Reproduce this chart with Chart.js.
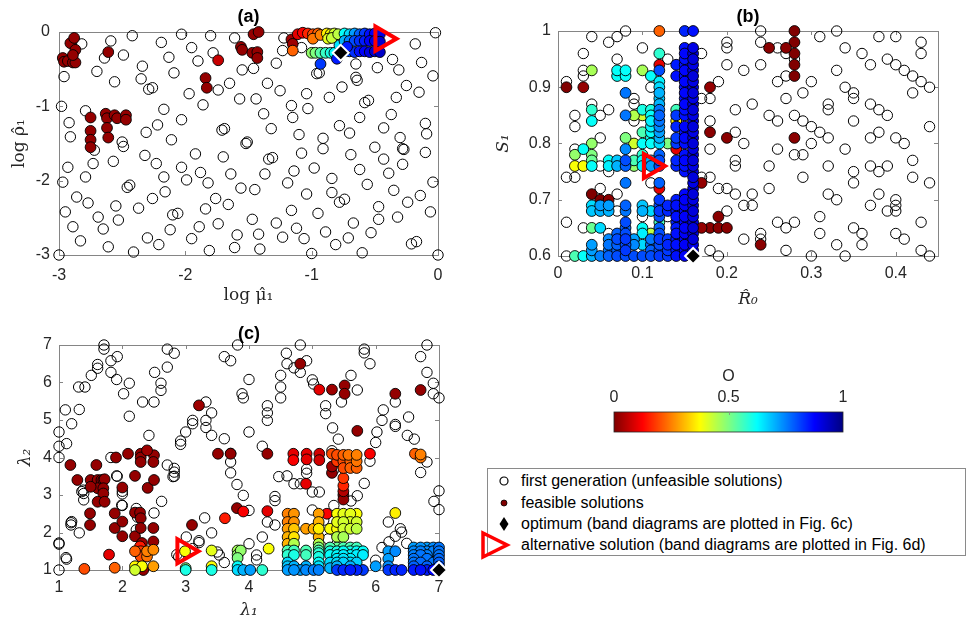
<!DOCTYPE html>
<html>
<head>
<meta charset="utf-8">
<script src="https://cdn.jsdelivr.net/npm/chart.js@4/dist/chart.umd.min.js"></script>
<style>
  html, body { margin: 0; padding: 0; background: #fff; }
  body { width: 967px; height: 624px; position: relative; overflow: hidden; }
  canvas { position: absolute; }
  #legend {
    position: absolute; left: 487px; top: 468px; width: 477px; height: 86px;
    border: 1px solid #8a8a8a; font-family: 'Liberation Sans', Arial, sans-serif;
    font-size: 16px; color: #000; background: #fff;
  }
  #legend .row { position: absolute; left: 0; height: 22px; line-height: 22px; white-space: nowrap; }
  #legend .row span { position: absolute; left: 33px; top: 0; }
  #legend svg { position: absolute; left: 0; top: 0; overflow: visible; }
</style>
</head>
<body>
<canvas id="panelA" width="470" height="310" style="left:0;top:0"></canvas>
<canvas id="panelB" width="487" height="320" style="left:480px;top:0"></canvas>
<canvas id="panelC" width="470" height="304" style="left:0;top:320px"></canvas>
<canvas id="colorbar" width="280" height="80" style="left:590px;top:360px"></canvas>
<div id="legend">
  <div class="row" style="top:1px">
    <svg width="30" height="22"><circle cx="16" cy="11" r="4" fill="none" stroke="#000" stroke-width="1.2"/></svg>
    <span>first generation (unfeasible solutions)</span>
  </div>
  <div class="row" style="top:23px">
    <svg width="30" height="22"><circle cx="16" cy="11" r="3" fill="#800000" stroke="#000" stroke-width="0.8"/></svg>
    <span>feasible solutions</span>
  </div>
  <div class="row" style="top:44px">
    <svg width="30" height="22"><polygon points="16,4 20.5,11 16,18 11.5,11" fill="#000"/></svg>
    <span>optimum (band diagrams are plotted in Fig. 6c)</span>
  </div>
  <div class="row" style="top:65px">
    <svg width="30" height="22"><polygon points="-5,-1 19,11 -5,23" fill="none" stroke="#ff0000" stroke-width="3.5"/></svg>
    <span>alternative solution (band diagrams are plotted in Fig. 6d)</span>
  </div>
</div>
<script>
/* ============================================================
   Three scatter panels (a)(b)(c) + colour bar for O
   ============================================================ */

// ---- panel (a): log mu1 vs log rho1 ----
const aXTicks = [-3, -2, -1, 0];
const aYTicks = [-3, -2, -1, 0];
const aFirstGen = [
  [-2.82,-0.16],[-2.96,-0.6],[-2.70,-0.53],[-2.64,-0.35],[-2.59,-0.12],[-2.56,-0.67],[-2.49,-0.31],[-2.42,-0.05],
  [-2.34,-0.46],[-2.35,-0.63],[-2.29,-0.77],[-2.26,-0.75],[-2.19,-0.14],[-2.17,-1.04],[-2.13,-0.34],[-2.09,-0.55],
  [-2.03,-0.03],[-1.95,-0.21],[-1.97,-0.83],[-1.90,-0.39],[-1.86,-0.98],[-1.80,-0.05],[-1.78,-0.28],[-1.74,-0.78],
  [-1.65,-0.69],[-1.61,-0.08],[-1.57,-0.90],[-1.55,-0.51],[-1.46,-0.49],[-1.44,-0.90],[-1.35,-0.69],[-1.38,-1.10],
  [-1.28,-0.42],[-1.25,-0.79],[-1.22,-0.08],[-1.23,-0.25],[-1.16,-0.99],[-1.15,-1.15],[-1.08,-0.21],[-1.03,-1.03],
  [-1.04,-0.83],[-0.96,-0.56],[-0.94,-0.55],[-0.86,-0.88],[-0.76,-0.74],[-0.64,-0.65],[-0.62,-1.15],[-0.78,-1.26],
  [-0.70,-1.36],[-0.58,-0.95],[-0.55,-0.92],[-0.48,-0.48],[-0.43,-1.29],[-0.37,-1.11],[-0.33,-0.88],[-0.31,-0.51],
  [-0.36,-0.37],[-0.25,-0.72],[-0.18,-0.16],[-0.15,-0.81],[-0.13,-0.41],[-0.04,-0.59],[-0.02,-0.01],[-0.10,-1.23],
  [-0.30,-1.42],[-0.09,-1.37],[-0.27,-1.58],[-2.98,-1.0],[-2.92,-1.22],[-2.91,-1.41],[-2.79,-1.06],[-2.72,-1.59],
  [-2.50,-1.48],[-2.49,-1.54],[-2.31,-1.35],[-2.22,-1.25],[-2.11,-1.45],[-2.03,-1.18],[-1.71,-1.32],[-1.69,-1.30],
  [-1.52,-1.50],[-1.51,-1.48],[-1.32,-1.30],[-1.10,-1.38],[-0.91,-1.43],[-0.65,-0.43],[-0.65,-0.61],
  [-2.93,-1.82],[-2.97,-2.02],[-2.86,-2.22],[-2.79,-1.95],[-2.73,-1.77],[-2.77,-2.30],[-2.95,-2.42],[-2.89,-2.62],
  [-2.83,-2.81],[-2.69,-2.49],[-2.65,-2.65],[-2.61,-2.89],[-2.57,-1.74],[-2.55,-2.34],[-2.53,-2.53],[-2.46,-2.09],
  [-2.44,-2.06],[-2.41,-2.96],[-2.37,-2.37],[-2.32,-1.66],[-2.30,-2.77],[-2.26,-2.24],[-2.23,-1.77],[-2.21,-2.86],
  [-2.17,-1.95],[-2.16,-2.15],[-2.12,-2.66],[-2.10,-2.46],[-2.06,-2.44],[-2.03,-1.82],[-1.99,-1.99],[-1.95,-2.78],
  [-1.92,-1.64],[-1.89,-2.62],[-1.88,-1.89],[-1.84,-2.38],[-1.82,-2.03],[-1.81,-2.94],[-1.76,-2.24],[-1.74,-2.58],
  [-1.70,-1.68],[-1.66,-2.32],[-1.64,-1.91],[-1.59,-2.73],[-1.61,-2.90],[-1.56,-2.10],[-1.47,-2.52],[-1.45,-2.12],
  [-1.42,-2.72],[-1.41,-2.92],[-1.37,-1.91],[-1.34,-1.71],[-1.31,-1.69],[-1.28,-2.57],[-1.23,-2.76],[-1.19,-2.03],
  [-1.16,-2.40],[-1.14,-1.87],[-1.12,-2.64],[-1.08,-1.63],[-1.06,-2.78],[-1.04,-2.18],[-1.00,-2.98],[-0.98,-1.83],
  [-0.95,-2.44],[-0.91,-1.57],[-0.89,-2.69],[-0.84,-2.16],[-0.84,-1.97],[-0.81,-2.86],[-0.78,-2.29],[-0.74,-2.25],
  [-0.71,-2.77],[-0.69,-1.65],[-0.67,-2.57],[-0.62,-1.85],[-0.60,-2.97],[-0.56,-2.05],[-0.53,-2.70],[-0.50,-1.55],
  [-0.47,-2.52],[-0.47,-2.35],[-0.43,-1.71],[-0.39,-1.90],[-0.35,-2.13],[-0.32,-2.49],[-0.28,-1.57],[-0.28,-1.78],
  [-0.24,-2.29],[-0.21,-2.85],[-0.17,-2.82],[-0.14,-2.20],[-0.10,-1.62],[-0.06,-2.42],[-0.04,-2.02],[0,-3],[-3,-3]
];
// [x, y, O]
const aFeasible = [
  [-2.97,-0.35,0.02],[-2.96,-0.40,0.02],[-2.93,-0.39,0.02],[-2.89,-0.41,0.02],[-2.87,-0.41,0.02],[-2.91,-0.15,0.02],
  [-2.88,-0.08,0.02],[-2.87,-0.24,0.02],[-2.89,-0.31,0.02],[-2.75,-1.15,0.02],[-2.75,-1.33,0.02],[-2.75,-1.45,0.02],
  [-2.75,-1.55,0.02],[-2.63,-1.10,0.02],[-2.62,-1.16,0.02],[-2.62,-1.29,0.02],[-2.56,-1.12,0.02],[-2.54,-1.16,0.02],
  [-2.47,-1.12,0.02],[-2.47,-1.18,0.02],[-2.61,-1.42,0.02],[-2.61,-0.27,0.02],[-1.74,-0.38,0.07],[-1.84,-0.62,0.02],
  [-1.83,-0.75,0.02],[-1.56,-0.20,0.02],[-1.55,-0.24,0.02],[-1.46,-0.03,0.02],[-1.42,0,0.02],[-1.47,-0.28,0.02],
  [-1.43,-0.27,0.02],[-1.43,-0.35,0.02],[-1.16,-0.10,0.03],[-1.15,-0.16,0.03],[-1.15,-0.25,0.22],
  [-1.11,-0.03,0.10],[-1.07,-0.01,0.12],[-1.03,-0.02,0.16],[-0.99,-0.03,0.20],[-0.95,-0.02,0.22],[-0.93,-0.04,0.25],
  [-0.99,-0.09,0.24],[-0.88,-0.02,0.36],[-0.85,-0.03,0.38],[-0.82,-0.02,0.42],[-0.79,-0.03,0.44],[-0.87,-0.09,0.40],
  [-0.84,-0.08,0.43],[-1.00,-0.28,0.48],[-0.97,-0.28,0.50],[-0.93,-0.28,0.54],[-0.89,-0.28,0.57],[-0.85,-0.28,0.60],
  [-0.82,-0.28,0.63],[-0.78,-0.18,0.65],[-0.74,-0.02,0.62],[-0.70,-0.03,0.66],[-0.66,-0.02,0.72],[-0.62,-0.03,0.78],
  [-0.58,-0.02,0.82],[-0.54,-0.03,0.86],[-0.50,-0.02,0.88],[-0.46,-0.03,0.90],[-0.74,-0.12,0.70],[-0.70,-0.12,0.75],
  [-0.66,-0.12,0.80],[-0.62,-0.12,0.83],[-0.58,-0.12,0.85],[-0.54,-0.12,0.88],[-0.50,-0.12,0.90],[-0.46,-0.13,0.92],
  [-0.74,-0.26,0.75],[-0.70,-0.26,0.80],[-0.66,-0.27,0.83],[-0.62,-0.26,0.86],[-0.58,-0.26,0.88],[-0.54,-0.27,0.90],
  [-0.50,-0.26,0.92],[-0.46,-0.27,0.93],[-0.72,-0.20,0.85],[-0.80,-0.36,0.85],[-0.93,-0.43,0.82]
];
const aOptimum = [[-0.77, -0.28]];
const aAlternative = [[-0.44, -0.09]];

// ---- panel (b): R0 vs S1 ----
const bXTicks = [0, 0.1, 0.2, 0.3, 0.4];
const bYTicks = [0.6, 0.7, 0.8, 0.9, 1];
const bFirstGen = [
  [0.01,0.91],[0.03,0.92],[0.03,0.93],[0.03,0.96],[0.04,0.99],[0.06,0.98],[0.07,0.99],[0.08,1.0],[0.07,0.95],
  [0.10,0.97],[0.13,0.95],[0.17,0.96],[0.20,0.98],[0.20,0.97],[0.20,0.94],[0.22,0.93],[0.24,1.0],[0.24,0.98],
  [0.24,0.94],[0.26,0.97],[0.27,0.96],[0.28,0.95],[0.26,0.91],[0.27,0.92],[0.27,0.88],[0.29,0.89],[0.30,0.91],
  [0.31,0.99],[0.33,1.0],[0.34,0.97],[0.33,0.93],[0.34,0.90],[0.35,0.89],[0.35,0.88],[0.36,0.96],[0.37,0.94],
  [0.38,0.99],[0.39,0.95],[0.40,0.99],[0.40,0.94],[0.41,0.93],[0.42,0.92],[0.43,0.98],[0.43,0.96],[0.43,0.91],
  [0.44,0.90],[0.42,0.89],[0.32,0.87],[0.32,0.86],[0.35,0.84],[0.37,0.87],[0.38,0.86],[0.39,0.85],[0.37,0.81],
  [0.38,0.82],[0.40,0.81],[0.41,0.80],[0.44,0.83],[0.34,0.79],[0.32,0.81],[0.31,0.82],[0.30,0.83],[0.29,0.84],
  [0.28,0.85],[0.26,0.84],[0.25,0.85],[0.21,0.86],[0.23,0.87],[0.30,0.80],[0.22,0.80],[0.21,0.82],[0.18,0.84],
  [0.18,0.79],[0.26,0.79],[0.28,0.78],[0.29,0.78],[0.17,0.88],[0.18,0.88],[0.19,0.91],[0.02,0.85],[0.02,0.83],
  [0.04,0.87],[0.05,0.85],[0.06,0.86],[0.05,0.81],[0.02,0.79],[0.09,0.88],[0.09,0.87],[0.11,0.90],[0.09,0.84],
  [0.01,0.74],[0.02,0.74],[0.01,0.66],[0.03,0.65],[0.01,0.60],[0.05,0.76],[0.06,0.75],[0.05,0.72],[0.07,0.71],
  [0.07,0.68],[0.06,0.64],[0.11,0.73],[0.10,0.67],[0.13,0.67],[0.17,0.74],[0.18,0.74],[0.18,0.61],[0.19,0.72],
  [0.20,0.72],[0.20,0.68],[0.19,0.60],[0.21,0.71],[0.21,0.77],[0.21,0.76],[0.22,0.69],[0.23,0.69],[0.23,0.71],
  [0.22,0.63],[0.24,0.64],[0.24,0.63],[0.25,0.76],[0.25,0.72],[0.26,0.66],[0.27,0.65],[0.27,0.61],[0.28,0.66],
  [0.29,0.74],[0.30,0.60],[0.31,0.67],[0.31,0.64],[0.32,0.76],[0.33,0.70],[0.32,0.71],[0.33,0.62],[0.34,0.60],
  [0.35,0.75],[0.35,0.73],[0.35,0.65],[0.36,0.64],[0.36,0.62],[0.37,0.69],[0.37,0.76],[0.38,0.75],[0.38,0.71],
  [0.39,0.76],[0.39,0.68],[0.40,0.68],[0.40,0.70],[0.40,0.69],[0.40,0.64],[0.41,0.63],[0.42,0.77],[0.42,0.74],
  [0.43,0.66],[0.43,0.61],[0.44,0.73],[0.44,0.60]
];
const bFeasible = [
  [0.01,0.90,0.00],[0.03,0.90,0.02],[0.18,0.90,0.02],[0.25,0.97,0.01],[0.27,0.97,0.01],[0.28,1.00,0.00],
  [0.28,0.98,0.00],[0.28,0.96,0.00],[0.28,0.94,0.00],[0.28,0.92,0.00],[0.18,0.82,0.01],[0.20,0.81,0.01],
  [0.28,0.81,0.01],[0.17,0.73,0.02],[0.19,0.67,0.01],[0.17,0.65,0.02],[0.18,0.65,0.01],[0.19,0.65,0.01],
  [0.20,0.65,0.01],[0.24,0.62,0.01],[0.04,0.71,0.00],[0.05,0.70,0.00],[0.06,0.70,0.01],
  [0.02,0.60,0.55],[0.02,0.76,0.38],[0.02,0.78,0.48],[0.03,0.60,0.62],[0.03,0.76,0.38],[0.03,0.79,0.62],
  [0.04,0.60,0.70],[0.04,0.61,0.72],[0.04,0.62,0.72],[0.04,0.65,0.52],[0.04,0.68,0.68],[0.04,0.69,0.66],
  [0.04,0.76,0.62],[0.04,0.77,0.52],[0.04,0.78,0.50],[0.04,0.80,0.48],[0.04,0.84,0.62],[0.04,0.86,0.58],
  [0.04,0.93,0.46],[0.05,0.60,0.75],[0.05,0.65,0.66],[0.05,0.68,0.70],[0.05,0.69,0.72],
  [0.06,0.60,0.78],[0.06,0.61,0.76],[0.06,0.62,0.76],[0.06,0.63,0.74],[0.06,0.68,0.70],[0.06,0.69,0.72],
  [0.06,0.76,0.64],[0.06,0.77,0.62],[0.07,0.60,0.80],[0.07,0.61,0.78],[0.07,0.62,0.78],[0.07,0.63,0.80],
  [0.07,0.64,0.78],[0.07,0.76,0.70],[0.07,0.77,0.68],[0.07,0.92,0.62],[0.07,0.93,0.62],
  [0.08,0.60,0.80],[0.08,0.61,0.82],[0.08,0.62,0.80],[0.08,0.63,0.82],[0.08,0.64,0.80],[0.08,0.65,0.78],
  [0.08,0.66,0.80],[0.08,0.68,0.76],[0.08,0.69,0.78],[0.08,0.73,0.76],[0.08,0.76,0.78],[0.08,0.77,0.80],
  [0.08,0.79,0.74],[0.08,0.81,0.50],[0.08,0.85,0.76],[0.08,0.89,0.76],[0.08,0.92,0.62],[0.08,0.93,0.62],
  [0.09,0.60,0.80],[0.09,0.62,0.74],[0.09,0.63,0.72],[0.09,0.76,0.48],[0.09,0.77,0.55],[0.09,0.80,0.42],
  [0.09,0.85,0.45],[0.10,0.60,0.80],[0.10,0.62,0.66],[0.10,0.64,0.64],[0.10,0.65,0.62],[0.10,0.68,0.70],
  [0.10,0.69,0.68],[0.10,0.76,0.64],[0.10,0.77,0.62],[0.10,0.78,0.58],[0.10,0.80,0.62],[0.10,0.82,0.55],
  [0.10,0.85,0.42],[0.10,0.86,0.60],[0.10,0.93,0.46],[0.11,0.60,0.80],[0.11,0.61,0.78],[0.11,0.62,0.76],
  [0.11,0.63,0.76],[0.11,0.64,0.44],[0.11,0.68,0.66],[0.11,0.76,0.72],[0.11,0.77,0.70],[0.11,0.80,0.62],
  [0.11,0.81,0.60],[0.11,0.82,0.62],[0.11,0.83,0.64],[0.11,0.84,0.64],[0.11,0.85,0.62],[0.11,0.86,0.60],
  [0.11,0.92,0.62],[0.12,0.60,0.82],[0.12,0.61,0.80],[0.12,0.62,0.80],[0.12,0.63,0.82],[0.12,0.64,0.80],
  [0.12,0.65,0.78],[0.12,0.66,0.56],[0.12,0.67,0.80],[0.12,0.68,0.82],[0.12,0.69,0.80],[0.12,0.70,0.82],
  [0.12,0.72,0.10],[0.12,0.73,0.78],[0.12,0.76,0.80],[0.12,0.77,0.80],[0.12,0.78,0.78],[0.12,0.80,0.66],
  [0.12,0.81,0.70],[0.12,0.82,0.72],[0.12,0.83,0.74],[0.12,0.84,0.76],[0.12,0.85,0.78],[0.12,0.86,0.76],
  [0.12,0.87,0.70],[0.12,0.88,0.68],[0.12,0.89,0.70],[0.12,0.90,0.66],[0.12,0.91,0.64],[0.12,0.93,0.80],
  [0.12,0.94,0.10],[0.12,0.96,0.58],[0.12,1.00,0.22],[0.13,0.60,0.82],[0.13,0.61,0.82],[0.13,0.62,0.84],
  [0.13,0.63,0.82],[0.13,0.68,0.84],[0.13,0.69,0.84],[0.13,0.80,0.50],
  [0.14,0.60,0.86],[0.14,0.61,0.85],[0.14,0.62,0.86],[0.14,0.63,0.85],[0.14,0.64,0.86],[0.14,0.65,0.85],
  [0.14,0.66,0.84],[0.14,0.67,0.86],[0.14,0.68,0.85],[0.14,0.69,0.86],[0.14,0.70,0.85],[0.14,0.76,0.84],
  [0.14,0.77,0.84],[0.14,0.79,0.10],[0.14,0.80,0.82],[0.14,0.81,0.82],[0.14,0.83,0.84],[0.14,0.85,0.82],
  [0.14,0.86,0.56],[0.14,0.92,0.86],[0.14,0.94,0.85],
  [0.15,0.60,0.88],[0.15,0.61,0.87],[0.15,0.62,0.88],[0.15,0.63,0.87],[0.15,0.64,0.88],[0.15,0.65,0.88],
  [0.15,0.66,0.87],[0.15,0.67,0.88],[0.15,0.68,0.87],[0.15,0.69,0.88],[0.15,0.70,0.88],[0.15,0.71,0.87],
  [0.15,0.75,0.86],[0.15,0.76,0.86],[0.15,0.77,0.87],[0.15,0.78,0.86],[0.15,0.80,0.86],[0.15,0.81,0.87],
  [0.15,0.82,0.86],[0.15,0.83,0.87],[0.15,0.85,0.86],[0.15,0.86,0.86],[0.15,0.87,0.87],[0.15,0.88,0.86],
  [0.15,0.89,0.87],[0.15,0.90,0.86],[0.15,0.91,0.87],[0.15,0.92,0.86],[0.15,0.93,0.87],[0.15,0.94,0.86],
  [0.15,0.95,0.86],[0.15,0.96,0.87],[0.15,0.97,0.86],[0.15,1.00,0.84],[0.14,0.84,0.36],
  [0.16,0.61,0.90],[0.16,0.62,0.90],[0.16,0.63,0.91],[0.16,0.64,0.90],[0.16,0.65,0.91],[0.16,0.66,0.90],
  [0.16,0.67,0.90],[0.16,0.68,0.91],[0.16,0.69,0.90],[0.16,0.70,0.90],[0.16,0.71,0.91],[0.16,0.72,0.90],
  [0.16,0.73,0.90],[0.16,0.74,0.91],[0.16,0.75,0.90],[0.16,0.76,0.90],[0.16,0.77,0.91],[0.16,0.78,0.90],
  [0.16,0.79,0.90],[0.16,0.80,0.91],[0.16,0.81,0.90],[0.16,0.82,0.90],[0.16,0.83,0.91],[0.16,0.84,0.90],
  [0.16,0.85,0.90],[0.16,0.86,0.91],[0.16,0.87,0.90],[0.16,0.88,0.90],[0.16,0.89,0.91],[0.16,0.90,0.90],
  [0.16,0.91,0.90],[0.16,0.92,0.91],[0.16,0.93,0.90],[0.16,0.94,0.90],[0.16,0.95,0.91],[0.16,0.96,0.90],
  [0.16,0.97,0.90],[0.16,1.00,0.86]
];
const bOptimum = [[0.16, 0.60]];
const bAlternative = [[0.11, 0.76]];

// ---- panel (c): lambda1 vs lambda2 ----
const cXTicks = [1, 2, 3, 4, 5, 6, 7];
const cYTicks = [1, 2, 3, 4, 5, 6, 7];
const cFirstGen = [
  [1.0,4.68],[1.0,4.3],[1.0,4.0],[1.1,5.27],[1.12,4.37],[1.2,4.9],[1.31,5.88],[1.32,5.28],[1.41,5.88],[1.51,6.19],
  [1.61,6.38],[1.61,6.48],[1.71,7.0],[1.71,6.89],[1.82,6.58],[1.82,6.27],[1.92,6.69],[1.91,6.08],[2.02,5.70],
  [2.11,5.98],[2.11,5.1],[1.82,4.0],[1.92,3.5],[2.32,5.48],[2.42,4.59],[2.5,5.48],[2.51,6.27],[2.61,5.98],
  [2.61,5.79],[2.71,6.89],[2.71,6.41],[2.82,6.78],[2.71,3.8],[2.82,3.71],[2.92,4.44],[2.92,4.35],[3.0,4.68],
  [3.11,4.99],[3.11,4.9],[3.32,4.99],[3.32,4.80],[3.32,5.48],[3.41,5.19],[3.41,4.59],[3.61,6.69],[3.71,6.58],
  [3.61,4.5],[3.71,4.11],[3.71,3.88],[3.71,3.59],[3.82,7.0],[3.89,5.70],[3.91,5.59],[4.0,6.08],[4.0,4.68],
  [4.21,4.3],[4.29,5.38],[4.29,5.19],[4.29,4.99],[4.47,3.49],[4.5,5.59],[4.5,5.88],[4.5,6.19],[4.59,6.78],
  [4.6,6.5],[4.71,6.39],[4.81,7.0],[4.81,6.27],[4.91,6.58],[4.91,3.69],[5.0,6.07],[5.02,5.96],[5.21,5.38],
  [5.21,5.17],[5.32,4.79],[5.41,4.49],[5.31,4.18],[5.46,5.48],[5.61,6.19],[5.71,5.80],[5.82,6.89],[5.82,6.79],
  [5.91,6.5],[5.91,3.9],[6.0,4.4],[6.02,4.68],[6.12,5.27],[6.1,4.99],[6.31,5.48],[6.31,4.88],[6.31,4.83],
  [6.52,5.08],[6.50,4.59],[6.61,4.49],[6.71,6.69],[6.81,7.0],[6.81,6.27],[6.91,5.98],[6.91,5.70],[7.0,5.59],
  [6.81,3.88],[6.71,3.6],[1,1],[1,1.69],[1.12,1.29],[1.19,2.26],[1.19,2.2],[1.32,1.99],[1.38,3.13],[1.39,3.04],
  [1.91,3.51],[2.0,3.1],[2.0,3.03],[2.0,2.72],[2.24,2.41],[2.5,2.52],[2.62,2.83],[2.82,3.61],[2.82,3.50],
  [2.89,1.35],[3.01,1.88],[3.11,1.57],[3.21,1.78],[3.21,1.73],[3.3,2.39],[3.41,1.99],[3.5,1.48],[3.53,1.40],
  [3.61,1.2],[3.81,3.28],[3.91,2.99],[4.0,2.59],[4.0,1.7],[4.12,1.40],[4.12,1.27],[4.21,1.88],[4.29,2.28],
  [4.41,2.2],[4.41,2.96],[4.41,2.85],[4.6,3.51],[4.71,3.3],[4.81,3.3],[4.91,3.58],[5.0,3.08],[5.11,3.08],
  [5.0,2.6],[5.18,2.33],[5.25,1.83],[5.34,3.68],[5.34,2.72],[5.61,2.84],[5.71,2.98],[5.82,3.31],[6.0,1.26],
  [6.1,1.6],[6.2,2.28],[6.21,1.75],[6.31,1.90],[6.39,2.1],[6.41,2.01],[6.49,1.71],[6.92,2.83],[7.0,3.11],
  [7.0,2.61],[1.36,3.09],[1.39,2.87],[1.99,2.73],[2.22,2.64],[2.22,2.07],[2.8,3.49],[1.2,2.29],[1.0,1.72],
  [1.11,1.33],[2.86,1.41]
];
const cFeasible = [
  [1.18,3.8,0.02],[1.29,3.4,0.02],[1.5,3.4,0.02],[1.59,3.8,0.02],[1.61,3.4,0.02],[1.67,3.4,0.02],[1.7,3.4,0.02],
  [1.72,3.42,0.02],[1.61,3.18,0.02],[1.7,3.18,0.02],[1.7,3.04,0.02],[1.61,2.82,0.02],[1.72,2.82,0.02],
  [1.5,3.22,0.02],[1.49,2.51,0.02],[1.49,2.2,0.02],[1.9,4.0,0.02],[1.88,2.51,0.02],[1.88,2.12,0.02],
  [2.0,2.29,0.02],[2.0,1.9,0.02],[2.0,3.2,0.02],[2.09,4.1,0.02],[2.2,3.51,0.02],[2.2,2.53,0.02],[2.2,1.9,0.02],
  [2.29,4.1,0.02],[2.29,4.0,0.02],[2.29,3.88,0.02],[2.28,2.53,0.02],[2.29,2.38,0.02],[2.29,2.12,0.02],
  [2.39,4.19,0.03],[2.4,3.19,0.02],[2.5,4.06,0.02],[2.49,3.88,0.02],[2.5,3.4,0.02],[2.49,2.12,0.02],
  [2.49,1.76,0.02],[2.31,1.72,0.03],[2.33,1.0,0.02],[3.21,5.39,0.03],[3.51,4.1,0.02],[3.71,4.1,0.02],
  [4.29,4.1,0.02],[4.81,6.5,0.02],[5.71,4.71,0.02],[6.31,5.7,0.02],[6.71,5.8,0.02],[5.31,5.81,0.03],
  [5.11,5.81,0.1],[5.51,5.92,0.02],[5.51,5.70,0.02],[4.7,4.1,0.1],[4.7,3.93,0.12],[4.91,4.1,0.1],
  [4.91,3.95,0.1],[5.11,4.1,0.08],[5.11,3.93,0.08],[5.31,4.1,0.2],[5.31,3.76,0.03],[5.31,3.59,0.02],
  [5.91,4.1,0.12],[6.62,4.1,0.22],[6.71,4.08,0.25],[6.71,4.0,0.24],[5.49,3.0,0.02],[5.49,2.88,0.02],[5.49,3.1,0.05],
  [5.39,4.07,0.2],[5.49,4.07,0.22],[5.57,4.07,0.24],[5.7,4.07,0.25],[5.39,3.9,0.18],[5.49,3.9,0.2],[5.6,3.9,0.22],
  [5.7,3.9,0.24],[5.49,3.72,0.2],[5.6,3.72,0.22],[5.7,3.72,0.22],[5.49,3.45,0.18],[5.49,3.25,0.16],
  [3.62,2.38,0.15],[3.81,2.65,0.02],[3.91,2.56,0.12],[4.29,2.57,0.1],[3.1,2.2,0.02],[1.79,1.41,0.1],[4.9,3.3,0.1],
  [2.2,1.5,0.22],[2.28,1.63,0.15],[2.29,1.5,0.18],[2.39,1.5,0.25],[2.49,1.54,0.26],[2.39,1.36,0.24],
  [2.29,1.36,0.2],[2.2,1.1,0.37],[2.31,1.1,0.38],[2.49,1.1,0.28],[2.2,1.0,0.42],[1.4,1.03,0.2],[1.88,1.06,0.22],
  [2.99,1.5,0.38],[3.0,1.05,0.5],[3.0,1.0,0.6],[3.41,1.52,0.4],[3.41,1.1,0.38],[3.41,1.0,0.6],
  [3.82,1.52,0.46],[3.82,1.41,0.48],[3.82,1.32,0.5],[3.82,1.1,0.62],[3.82,1.0,0.66],[3.91,1.0,0.7],
  [4.02,1.0,0.72],[3.87,1.52,0.48],[4.21,1.0,0.58],[4.31,1.57,0.38],
  [4.61,2.5,0.25],[4.71,2.5,0.27],[4.61,2.28,0.25],[4.71,2.28,0.27],[4.61,2.1,0.28],[4.71,2.1,0.32],
  [4.61,1.88,0.3],[4.71,1.88,0.35],[4.61,1.7,0.3],[4.71,1.7,0.45],[4.61,1.52,0.55],[4.71,1.52,0.56],
  [4.61,1.4,0.58],[4.71,1.4,0.6],[4.61,1.2,0.66],[4.61,1.1,0.68],[4.71,1.1,0.7],[4.61,1.0,0.72],[4.71,1.0,0.73],
  [4.81,1.0,0.72],[4.9,1.52,0.55],[4.9,1.4,0.56],[4.9,1.1,0.7],[4.9,1.0,0.74],[5.02,1.0,0.75],[4.9,2.1,0.28],
  [5.02,2.1,0.3],[5.1,2.5,0.28],[5.1,2.28,0.3],[5.1,2.1,0.36],[5.1,1.88,0.3],[5.1,1.7,0.45],[5.1,1.6,0.5],
  [5.1,1.52,0.55],[5.1,1.45,0.58],[5.1,1.35,0.6],[5.1,1.2,0.62],[5.1,1.1,0.65],[5.1,1.0,0.75],[5.23,2.5,0.12],
  [5.28,2.1,0.38],[5.28,1.6,0.55],[5.28,1.5,0.6],[5.28,1.4,0.62],[5.28,1.2,0.66],[5.28,1.05,0.7],
  [5.39,2.5,0.38],[5.49,2.5,0.4],[5.6,2.5,0.4],[5.7,2.5,0.38],[5.39,2.28,0.4],[5.49,2.28,0.42],[5.6,2.28,0.41],
  [5.7,2.28,0.42],[5.39,2.1,0.38],[5.49,2.1,0.42],[5.6,2.1,0.42],[5.7,2.1,0.44],[5.39,1.88,0.45],[5.49,1.88,0.46],
  [5.39,1.6,0.52],[5.49,1.6,0.55],[5.6,1.6,0.55],[5.7,1.6,0.56],[5.39,1.5,0.6],[5.49,1.5,0.62],[5.6,1.5,0.6],
  [5.7,1.5,0.62],[5.39,1.4,0.63],[5.49,1.4,0.64],[5.6,1.4,0.63],[5.7,1.4,0.64],[5.39,1.3,0.64],[5.49,1.3,0.65],
  [5.6,1.3,0.64],[5.39,1.2,0.66],[5.49,1.2,0.67],[5.6,1.2,0.66],[5.7,1.2,0.67],[5.39,1.1,0.7],[5.6,1.1,0.7],
  [5.39,1.0,0.82],[5.49,1.0,0.84],[5.6,1.0,0.85],[5.7,1.0,0.84],[5.8,1.5,0.62],[5.8,1.4,0.64],[5.8,1.0,0.82],
  [6.0,1.1,0.72],[6.2,1.5,0.72],[6.31,1.5,0.74],[6.2,1.3,0.72],[6.2,1.1,0.74],[6.2,1.0,0.82],[6.31,1.0,0.84],
  [6.41,1.0,0.84],[6.31,2.52,0.36],
  [6.6,1.6,0.72],[6.71,1.6,0.73],[6.81,1.6,0.72],[6.91,1.6,0.74],[7.0,1.6,0.76],[6.6,1.5,0.74],[6.71,1.5,0.75],
  [6.81,1.5,0.74],[6.91,1.5,0.75],[7.0,1.5,0.76],[6.6,1.4,0.75],[6.71,1.4,0.76],[6.81,1.4,0.75],[7.0,1.4,0.76],
  [6.6,1.3,0.76],[6.81,1.3,0.76],[7.0,1.3,0.77],[6.6,1.2,0.76],[6.71,1.2,0.77],[6.91,1.2,0.76],[7.0,1.2,0.78],
  [6.6,1.1,0.78],[6.81,1.1,0.78],[7.0,1.1,0.8],[6.6,1.0,0.85],[6.71,1.0,0.86],[6.81,1.0,0.85],[6.91,1.0,0.87]
];
const cOptimum = [[7.0, 1.0]];
const cAlternative = [[2.98, 1.5]];

// ---- colour bar ----
const barTicks = [0, 0.5, 1];
const barTickLabels = ['0', '0.5', '1'];

/* ---------- helpers ---------- */
const TICK_FONT = { family: "'Liberation Sans', Arial, Helvetica, sans-serif", size: 16 };
const LABEL_FONT = { family: "'DejaVu Serif', 'Liberation Serif', serif", size: 17 };
const AXIS_GREY = '#858585';

// reversed jet: 0 -> dark red, 1 -> dark blue
function jetReversed(o) {
  const t = 1 - o;
  const c = v => Math.round(255 * Math.max(0, Math.min(1, 1.5 - Math.abs(4 * t - v))));
  return `rgb(${c(3)},${c(2)},${c(1)})`;
}

const framePlugin = {
  id: 'frame',
  beforeDatasetsDraw(chart) {
    const { ctx, chartArea: a, scales } = chart;
    ctx.save();
    ctx.strokeStyle = AXIS_GREY;
    ctx.lineWidth = 1;
    ctx.strokeRect(Math.round(a.left) + 0.5, Math.round(a.top) + 0.5,
      Math.round(a.right - a.left), Math.round(a.bottom - a.top));
    ctx.beginPath();
    scales.x.ticks.forEach(t => {
      const px = Math.round(scales.x.getPixelForValue(t.value)) + 0.5;
      ctx.moveTo(px, a.bottom); ctx.lineTo(px, a.bottom - 4);
      ctx.moveTo(px, a.top); ctx.lineTo(px, a.top + 4);
    });
    scales.y.ticks.forEach(t => {
      const py = Math.round(scales.y.getPixelForValue(t.value)) + 0.5;
      ctx.moveTo(a.left, py); ctx.lineTo(a.left + 4, py);
      ctx.moveTo(a.right, py); ctx.lineTo(a.right - 4, py);
    });
    ctx.stroke();
    ctx.restore();
  }
};

const fixTicks = vals => scale => { scale.ticks = vals.map(v => ({ value: v })); };

function makePanel(id, p) {
  const pts = arr => arr.map(d => ({ x: d[0], y: d[1] }));
  const feasSorted = p.feasible.slice().sort((u, v) => u[2] - v[2]);
  return new Chart(document.getElementById(id), {
    type: 'scatter',
    data: {
      datasets: [
        { label: 'alternative', data: pts(p.alt), order: 0, clip: false,
          pointStyle: 'triangle', rotation: 90, pointRadius: 14, borderWidth: 4,
          borderColor: '#ff0000', backgroundColor: 'rgba(0,0,0,0)' },
        { label: 'optimum', data: pts(p.opt), order: 1, clip: false,
          pointStyle: 'rectRot', pointRadius: 8, borderWidth: 2,
          borderColor: '#ffffff', backgroundColor: '#000000' },
        { label: 'feasible', data: pts(feasSorted), order: 2, clip: false,
          pointRadius: 5.4, borderWidth: 0.9, borderColor: '#000',
          backgroundColor: feasSorted.map(d => jetReversed(d[2])) },
        { label: 'first', data: pts(p.first), order: 3, clip: false,
          pointRadius: 5.2, borderWidth: 1, borderColor: '#000',
          backgroundColor: 'rgba(255,255,255,0)' }
      ]
    },
    options: {
      responsive: false,
      animation: false,
      events: [],
      layout: { padding: { left: 0, right: p.padRight, top: 0, bottom: 0 } },
      plugins: {
        legend: { display: false },
        tooltip: { enabled: false },
        title: {
          display: true, text: p.title, fullSize: false, color: '#000',
          font: { family: "'Liberation Sans', Arial, sans-serif", size: 18, weight: 'bold', lineHeight: 1 },
          padding: p.titlePad
        }
      },
      scales: {
        x: {
          type: 'linear', min: p.xMin, max: p.xMax,
          afterBuildTicks: fixTicks(p.xTicks),
          afterFit: s => { s.height = p.xHeight; },
          grid: { display: false, drawTicks: false }, border: { display: false },
          ticks: { font: TICK_FONT, color: '#262626', padding: p.xTickPad, maxRotation: 0,
                   callback: v => String(v) },
          title: { display: true, text: p.xLabel, color: '#262626',
                   font: Object.assign({}, LABEL_FONT, { style: p.italic ? 'italic' : 'normal' }),
                   padding: { top: 0, bottom: p.xTitlePad } }
        },
        y: {
          type: 'linear', min: p.yMin, max: p.yMax,
          afterBuildTicks: fixTicks(p.yTicks),
          afterFit: s => { s.width = p.yWidth; },
          grid: { display: false, drawTicks: false }, border: { display: false },
          ticks: { font: TICK_FONT, color: '#262626', padding: p.yTickPad,
                   callback: v => String(v) },
          title: { display: true, text: p.yLabel, color: '#262626',
                   font: Object.assign({}, LABEL_FONT, { style: p.italic ? 'italic' : 'normal' }),
                   padding: { top: p.yTitlePad, bottom: 0 } }
        }
      }
    },
    plugins: [framePlugin]
  });
}

makePanel('panelA', {
  title: '(a)', titlePad: { top: 8, bottom: 6 },
  first: aFirstGen, feasible: aFeasible, opt: aOptimum, alt: aAlternative,
  xMin: -3, xMax: 0, yMin: -3, yMax: 0, xTicks: aXTicks, yTicks: aYTicks,
  xLabel: 'log μ̂₁', yLabel: 'log ρ̂₁', italic: false,
  padRight: 32, xHeight: 55, yWidth: 59, xTickPad: 11, yTickPad: 9, xTitlePad: 4, yTitlePad: 9
});

makePanel('panelB', {
  title: '(b)', titlePad: { top: 8, bottom: 5 },
  first: bFirstGen, feasible: bFeasible, opt: bOptimum, alt: bAlternative,
  xMin: 0, xMax: 0.45, yMin: 0.6, yMax: 1, xTicks: bXTicks, yTicks: bYTicks,
  xLabel: 'R̂₀', yLabel: 'S₁', italic: true,
  padRight: 29, xHeight: 64, yWidth: 78, xTickPad: 8, yTickPad: 7, xTitlePad: 10, yTitlePad: 13
});

makePanel('panelC', {
  title: '(c)', titlePad: { top: 5, bottom: 2 },
  first: cFirstGen, feasible: cFeasible, opt: cOptimum, alt: cAlternative,
  xMin: 1, xMax: 7, yMin: 1, yMax: 7, xTicks: cXTicks, yTicks: cYTicks,
  xLabel: 'λ₁', yLabel: 'λ₂', italic: true,
  padRight: 31, xHeight: 54, yWidth: 59, xTickPad: 8, yTickPad: 7, xTitlePad: 3, yTitlePad: 15
});

/* ---------- colour bar (O) ---------- */
const colorbarPlugin = {
  id: 'colorbarFill',
  beforeDatasetsDraw(chart) {
    const { ctx, chartArea: a, scales } = chart;
    ctx.save();
    for (let px = Math.floor(a.left); px < Math.ceil(a.right); px++) {
      ctx.fillStyle = jetReversed(scales.x.getValueForPixel(px + 0.5));
      ctx.fillRect(px, a.top, 1, a.bottom - a.top);
    }
    ctx.strokeStyle = '#262626';
    ctx.lineWidth = 0.8;
    ctx.strokeRect(a.left, a.top, a.right - a.left, a.bottom - a.top);
    ctx.strokeStyle = AXIS_GREY;
    ctx.beginPath();
    const mid = Math.round(scales.x.getPixelForValue(0.5)) + 0.5;
    ctx.moveTo(mid, a.top); ctx.lineTo(mid, a.top + 3);
    ctx.stroke();
    ctx.restore();
  }
};

new Chart(document.getElementById('colorbar'), {
  type: 'scatter',
  data: { datasets: [{ data: [], pointRadius: 0 }] },
  options: {
    responsive: false,
    animation: false,
    events: [],
    layout: { padding: { left: 24, right: 27, top: 0, bottom: 8 } },
    plugins: { legend: { display: false }, tooltip: { enabled: false } },
    scales: {
      x: {
        type: 'linear', position: 'top', min: 0, max: 1,
        afterBuildTicks: fixTicks(barTicks),
        afterFit: s => { s.height = 52; },
        grid: { display: false, drawTicks: false }, border: { display: false },
        ticks: { font: TICK_FONT, color: '#262626', padding: 5, maxRotation: 0,
                 callback: (v, i) => barTickLabels[i] },
        title: { display: true, text: 'O', color: '#262626', font: TICK_FONT,
                 padding: { top: 7, bottom: 0 } }
      },
      y: { display: false, min: 0, max: 1 }
    }
  },
  plugins: [colorbarPlugin]
});
</script>
</body>
</html>
